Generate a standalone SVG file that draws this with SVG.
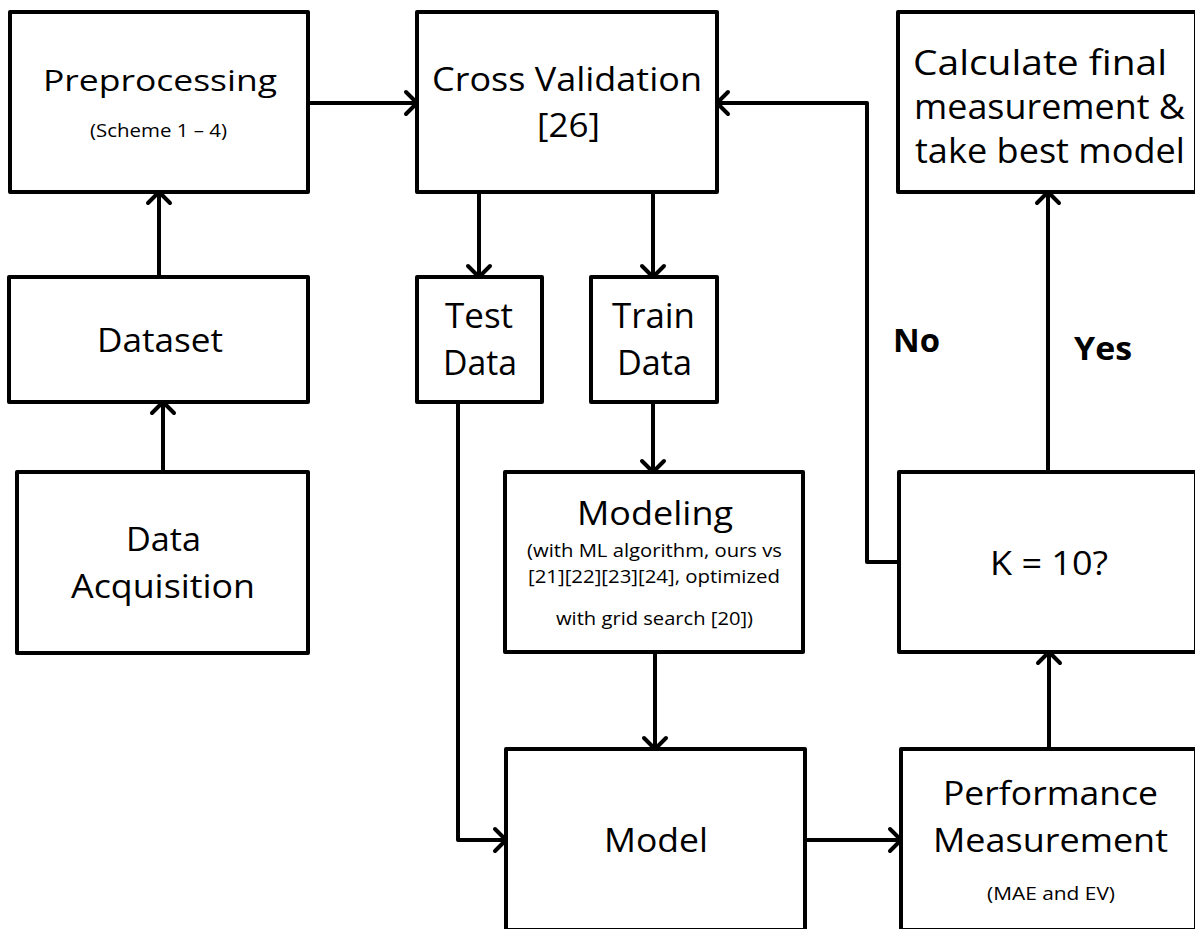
<svg xmlns="http://www.w3.org/2000/svg" width="1195" height="929" viewBox="0 0 1195 929">
<style>
.box{fill:#fff;stroke:#000;stroke-width:4;stroke-linejoin:round}
.t{font-family:"Open Sans","Liberation Sans",sans-serif;fill:#000;text-anchor:middle}
.big{font-size:32px}
.sm{font-size:18.5px}
.b{font-size:32px;font-weight:bold;text-anchor:start}
.c{fill:none;stroke:#000;stroke-width:4;stroke-linejoin:round;marker-end:url(#ah)}
</style>
<defs>
<marker id="ah" markerUnits="userSpaceOnUse" viewBox="-15 -15 30 30" refX="0" refY="0" markerWidth="30" markerHeight="30" orient="auto" overflow="visible">
<path d="M-11,-11 L0,0 L-11,11" fill="none" stroke="#000" stroke-width="4" stroke-linecap="round" stroke-linejoin="round"/>
</marker>
</defs>
<rect width="1195" height="929" fill="#fff"/>
<g id="n-preprocessing">
<rect class="box" x="10" y="12" width="298" height="180"/>
<text class="t" x="160" y="91" font-size="30" textLength="234" lengthAdjust="spacingAndGlyphs">Preprocessing</text>
<text class="t sm" x="158.5" y="137" textLength="137" lengthAdjust="spacingAndGlyphs">(Scheme 1 – 4)</text>
</g>
<g id="n-crossvalidation">
<rect class="box" x="417" y="12" width="300" height="180"/>
<text class="t big" x="567" y="91" textLength="270" lengthAdjust="spacingAndGlyphs">Cross Validation</text>
<text class="t big" x="568.5" y="137" textLength="63" lengthAdjust="spacingAndGlyphs">[26]</text>
</g>
<g id="n-final">
<rect class="box" x="898" y="12" width="298" height="180"/>
<text class="t" x="1040" y="75" font-size="34" textLength="254" lengthAdjust="spacingAndGlyphs">Calculate final</text>
<text class="t" x="1049.5" y="119" font-size="34" textLength="271" lengthAdjust="spacingAndGlyphs">measurement &amp;</text>
<text class="t" x="1050" y="163" font-size="34" textLength="270" lengthAdjust="spacingAndGlyphs">take best model</text>
</g>
<g id="n-dataset">
<rect class="box" x="9" y="277" width="299" height="125"/>
<text class="t big" x="160" y="352" textLength="126" lengthAdjust="spacingAndGlyphs">Dataset</text>
</g>
<g id="n-acquisition">
<rect class="box" x="17" y="472" width="291" height="181"/>
<text class="t big" x="163.5" y="551" textLength="75" lengthAdjust="spacingAndGlyphs">Data</text>
<text class="t big" x="163" y="598" textLength="184" lengthAdjust="spacingAndGlyphs">Acquisition</text>
</g>
<g id="n-test">
<rect class="box" x="417" y="277" width="125" height="125"/>
<text class="t" x="479" y="328" font-size="34" textLength="68" lengthAdjust="spacingAndGlyphs">Test</text>
<text class="t" x="480" y="375" font-size="34" textLength="74" lengthAdjust="spacingAndGlyphs">Data</text>
</g>
<g id="n-train">
<rect class="box" x="591" y="277" width="126" height="125"/>
<text class="t" x="653.5" y="328" font-size="34" textLength="83" lengthAdjust="spacingAndGlyphs">Train</text>
<text class="t" x="654.5" y="375" font-size="34" textLength="75" lengthAdjust="spacingAndGlyphs">Data</text>
</g>
<g id="n-modeling">
<rect class="box" x="505" y="472" width="298" height="180"/>
<text class="t big" x="655" y="525" textLength="156" lengthAdjust="spacingAndGlyphs">Modeling</text>
<text class="t sm" x="654.5" y="557" textLength="255" lengthAdjust="spacingAndGlyphs">(with ML algorithm, ours vs</text>
<text class="t sm" x="654" y="583" textLength="252" lengthAdjust="spacingAndGlyphs">[21][22][23][24], optimized</text>
<text class="t sm" x="654.5" y="625" textLength="197" lengthAdjust="spacingAndGlyphs">with grid search [20])</text>
</g>
<g id="n-k">
<rect class="box" x="899" y="472" width="297" height="180"/>
<text class="t big" x="1049" y="575" textLength="118" lengthAdjust="spacingAndGlyphs">K = 10?</text>
</g>
<g id="n-model">
<rect class="box" x="506" y="749" width="299" height="181"/>
<text class="t big" x="656" y="852" textLength="104" lengthAdjust="spacingAndGlyphs">Model</text>
</g>
<g id="n-performance">
<rect class="box" x="901" y="749" width="295" height="181"/>
<text class="t big" x="1050.5" y="805" textLength="215" lengthAdjust="spacingAndGlyphs">Performance</text>
<text class="t big" x="1050.5" y="852" textLength="235" lengthAdjust="spacingAndGlyphs">Measurement</text>
<text class="t sm" x="1051" y="900" textLength="128" lengthAdjust="spacingAndGlyphs">(MAE and EV)</text>
</g>
<g id="connectors">
<path class="c" d="M163,472 L163,402"/>
<path class="c" d="M159,277 L159,192"/>
<path class="c" d="M308,103 L417,103"/>
<path class="c" d="M479,192 L479,277"/>
<path class="c" d="M653,192 L653,277"/>
<path class="c" d="M653,402 L653,472"/>
<path class="c" d="M458,402 L458,840 L506,840"/>
<path class="c" d="M655,652 L655,749"/>
<path class="c" d="M805,840 L901,840"/>
<path class="c" d="M1049,749 L1049,652"/>
<path class="c" d="M1048,472 L1048,192"/>
<path class="c" d="M899,562 L867,562 L867,103 L717,103"/>
</g>
<g id="labels">
<text class="t b" x="893" y="352" textLength="47" lengthAdjust="spacingAndGlyphs">No</text>
<text class="t b" x="1074" y="360" textLength="58" lengthAdjust="spacingAndGlyphs">Yes</text>
</g>
</svg>
